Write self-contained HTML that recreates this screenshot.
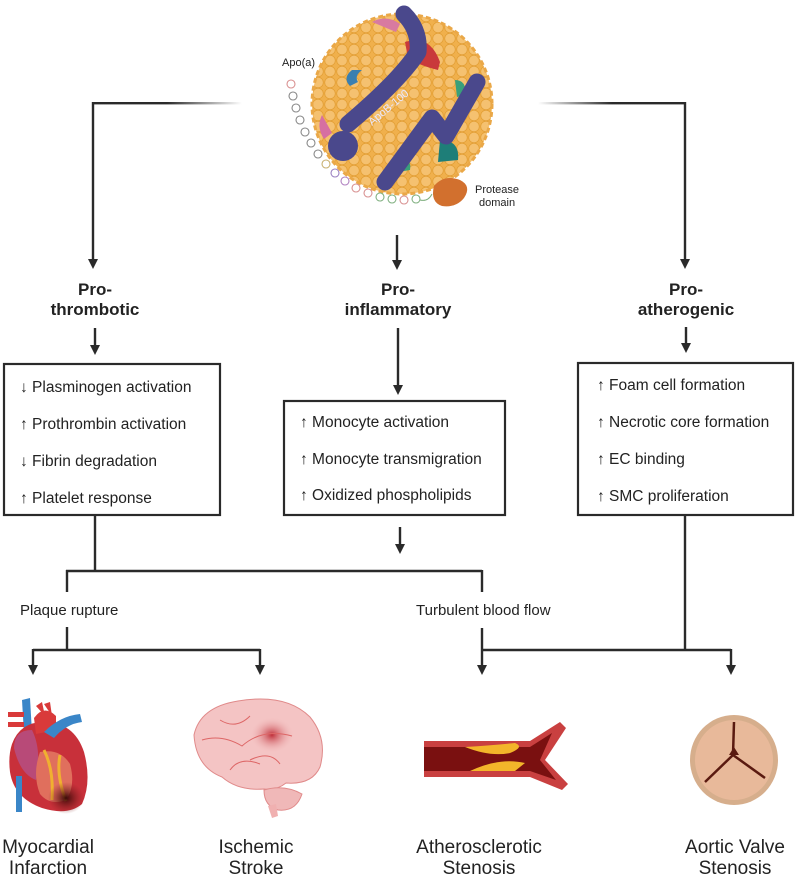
<!DOCTYPE html>
<html><head><meta charset="utf-8"><style>
html,body{margin:0;padding:0;background:#fff;}
svg{display:block;}
text{font-family:"Liberation Sans",sans-serif;fill:#222;}
.h{font-weight:bold;font-size:17px;text-anchor:middle;}
.t{font-size:15.5px;}
.l{font-size:15px;}
.b{font-size:19px;text-anchor:middle;}
.ln{stroke:#2a2a2a;stroke-width:2.4;fill:none;}
</style></head><body>
<svg width="796" height="876" viewBox="0 0 796 876" xmlns="http://www.w3.org/2000/svg">
<defs>
<linearGradient id="fl" x1="0" x2="1"><stop offset="0" stop-color="#2a2a2a" stop-opacity="0"/><stop offset="0.5" stop-color="#2a2a2a"/><stop offset="1" stop-color="#2a2a2a"/></linearGradient>
<linearGradient id="fr" x1="0" x2="1"><stop offset="0" stop-color="#2a2a2a"/><stop offset="0.5" stop-color="#2a2a2a"/><stop offset="1" stop-color="#2a2a2a" stop-opacity="0"/></linearGradient>
<pattern id="dots" width="12" height="11" patternUnits="userSpaceOnUse"><rect width="12" height="11" fill="#f0b04c"/><circle cx="6" cy="5.5" r="5.3" fill="#f5c170" stroke="#e39f35" stroke-width="0.8"/></pattern>
<radialGradient id="inf" cx="0.5" cy="0.5" r="0.5"><stop offset="0" stop-color="#c0303a"/><stop offset="1" stop-color="#f3c0c0" stop-opacity="0"/></radialGradient>
<radialGradient id="mi" cx="0.5" cy="0.5" r="0.5"><stop offset="0" stop-color="#3a0a08"/><stop offset="1" stop-color="#8a2020" stop-opacity="0"/></radialGradient>
</defs>

<!-- top connectors -->
<rect x="92" y="102" width="150" height="2.4" fill="url(#fr)"/>
<rect x="538" y="102" width="148" height="2.4" fill="url(#fl)"/>
<path class="ln" d="M93,102 V260"/><polygon points="88,259 98,259 93,269" fill="#2a2a2a"/>
<path class="ln" d="M685,102 V260"/><polygon points="680,259 690,259 685,269" fill="#2a2a2a"/>
<path class="ln" d="M397,235 V261"/><polygon points="392,260 402,260 397,270" fill="#2a2a2a"/>

<!-- particle -->
<circle cx="402" cy="104" r="90" fill="url(#dots)"/>
<circle cx="402" cy="104" r="90" fill="none" stroke="#eaa848" stroke-width="3" stroke-dasharray="5 3"/>
<path d="M372,22 q15,-8 28,2 l-4,8z" fill="#d87aa0"/>
<path d="M405,42 q25,-8 35,20 l-2,8 q-20,-5 -30,-12z" fill="#c9393b"/>
<path d="M352,70 q-10,8 -2,16 l8,-4 q-4,-6 4,-12z" fill="#3a7fb0"/>
<path d="M455,80 q12,0 10,15 l-8,2z" fill="#3aa07a"/>
<path d="M322,115 q-6,12 2,24 l8,-6z" fill="#d66fa2"/>
<path d="M440,140 q20,0 18,20 l-20,2z" fill="#1e7e78"/>
<path d="M400,158 q12,0 10,12 l-12,2z" fill="#3aa07a"/>
<g fill="none" stroke="#4a488c" stroke-width="17" stroke-linecap="round" stroke-linejoin="round">
<path d="M404,14 Q420,30 418,52 Q400,80 348,124"/>
<path d="M385,182 L432,118 L446,136 L477,82"/>
</g>
<circle cx="343" cy="146" r="15" fill="#4a488c"/>
<text x="372" y="126" transform="rotate(-40 372 126)" style="font-size:11px;fill:#e8e8ff">ApoB-100</text>
<text x="282" y="66" style="font-size:11px">Apo(a)</text>
<g fill="none" stroke-width="1.1">
<circle cx="291" cy="84" r="4" stroke="#d99090"/>
<circle cx="293" cy="96" r="4" stroke="#888"/>
<circle cx="296" cy="108" r="4" stroke="#888"/>
<circle cx="300" cy="120" r="4" stroke="#888"/>
<circle cx="305" cy="132" r="4" stroke="#888"/>
<circle cx="311" cy="143" r="4" stroke="#888"/>
<circle cx="318" cy="154" r="4" stroke="#888"/>
<circle cx="326" cy="164" r="4" stroke="#c8b070"/>
<circle cx="335" cy="173" r="4" stroke="#9a80c0"/>
<circle cx="345" cy="181" r="4" stroke="#b080c0"/>
<circle cx="356" cy="188" r="4" stroke="#d89090"/>
<circle cx="368" cy="193" r="4" stroke="#d89090"/>
<circle cx="380" cy="197" r="4" stroke="#80b080"/>
<circle cx="392" cy="199" r="4" stroke="#80b080"/>
<circle cx="404" cy="200" r="4" stroke="#d89090"/>
<circle cx="416" cy="199" r="4" stroke="#80b080"/>
</g>
<path d="M420,200 q8,2 12,-6" stroke="#80b080" fill="none"/>
<path d="M434,186 q10,-12 26,-6 q12,6 4,18 q-8,10 -22,8 q-12,-4 -8,-20z" fill="#d2702e"/>
<text x="475" y="193" style="font-size:11px">Protease</text>
<text x="479" y="206" style="font-size:11px">domain</text>

<!-- headings -->
<text class="h" x="95" y="295">Pro-</text><text class="h" x="95" y="315">thrombotic</text>
<text class="h" x="398" y="295">Pro-</text><text class="h" x="398" y="315">inflammatory</text>
<text class="h" x="686" y="295">Pro-</text><text class="h" x="686" y="315">atherogenic</text>
<path class="ln" d="M95,328 V346"/><polygon points="90,345 100,345 95,355" fill="#2a2a2a"/>
<path class="ln" d="M398,328 V386"/><polygon points="393,385 403,385 398,395" fill="#2a2a2a"/>
<path class="ln" d="M686,327 V344"/><polygon points="681,343 691,343 686,353" fill="#2a2a2a"/>

<!-- boxes -->
<rect x="4" y="364" width="216" height="151" fill="none" stroke="#2a2a2a" stroke-width="2.2"/>
<rect x="284" y="401" width="221" height="114" fill="none" stroke="#2a2a2a" stroke-width="2.2"/>
<rect x="578" y="363" width="215" height="152" fill="none" stroke="#2a2a2a" stroke-width="2.2"/>
<text x="20" y="392" class="t">↓ Plasminogen activation</text>
<text x="20" y="429" class="t">↑ Prothrombin activation</text>
<text x="20" y="466" class="t">↓ Fibrin degradation</text>
<text x="20" y="503" class="t">↑ Platelet response</text>
<text x="300" y="427" class="t">↑ Monocyte activation</text>
<text x="300" y="464" class="t">↑ Monocyte transmigration</text>
<text x="300" y="500" class="t">↑ Oxidized phospholipids</text>
<text x="597" y="390" class="t">↑ Foam cell formation</text>
<text x="597" y="427" class="t">↑ Necrotic core formation</text>
<text x="597" y="464" class="t">↑ EC binding</text>
<text x="597" y="501" class="t">↑ SMC proliferation</text>

<!-- lower connectors -->
<path class="ln" d="M95,515 V571 M66,571 H482 M67,570 V592 M482,570 V592"/>
<path class="ln" d="M400,527 V545"/><polygon points="395,544 405,544 400,554" fill="#2a2a2a"/>
<text class="l" x="20" y="615">Plaque rupture</text>
<text class="l" x="416" y="615">Turbulent blood flow</text>
<path class="ln" d="M67,627 V650 M33,650 H260 M33,649 V666 M260,649 V666"/>
<polygon points="28,665 38,665 33,675" fill="#2a2a2a"/><polygon points="255,665 265,665 260,675" fill="#2a2a2a"/>
<path class="ln" d="M685,515 V650 M482,628 V650 M482,650 H731 M482,649 V666 M731,649 V666"/>
<polygon points="477,665 487,665 482,675" fill="#2a2a2a"/><polygon points="726,665 736,665 731,675" fill="#2a2a2a"/>

<!-- heart -->
<g>
<path d="M36,706 l6,-4 l3,14z M44,704 l6,-2 l2,14z" fill="#d93a3a"/>
<path d="M22,700 l8,-2 l4,70 l-8,0z" fill="#3a86c8"/>
<path d="M12,744 q8,-22 32,-22 q30,0 40,30 q8,30 -2,52 q-14,12 -40,4 q-28,-10 -32,-36 q-2,-16 2,-28z" fill="#c8303a"/>
<path d="M14,748 q0,-18 18,-18 q10,20 4,50 q-16,-6 -22,-32z" fill="#b84a78"/>
<path d="M40,752 q20,-4 30,12 q6,22 -4,36 q-16,6 -26,-6 q-8,-20 0,-42z" fill="#e06f5d"/>
<path d="M44,750 q10,20 8,50 M60,755 q-4,20 6,46" stroke="#f0b030" stroke-width="3" fill="none"/>
<ellipse cx="66" cy="798" rx="18" ry="16" fill="url(#mi)"/>
<path d="M34,718 q10,-14 22,-2 l0,14 l-20,4z" fill="#d93a3a"/>
<path d="M44,732 q16,-16 36,-18 l2,8 q-16,2 -28,16z" fill="#3a86c8"/>
<path d="M8,712 l16,0 l0,5 l-16,0z M8,722 l16,0 l0,5 l-16,0z" fill="#d93a3a"/>
<path d="M16,776 l6,0 l0,36 l-6,0z" fill="#3a86c8"/>
</g>
<!-- brain -->
<g>
<path d="M194,735 q6,-28 44,-34 q48,-8 72,16 q18,22 10,50 q-8,18 -34,16 q-10,8 -22,6 q-26,2 -42,-12 q-26,-10 -28,-42z" fill="#f4c4c4" stroke="#e08a8a" stroke-width="1"/>
<ellipse cx="272" cy="735" rx="22" ry="18" fill="url(#inf)"/>
<path d="M264,790 q20,-6 38,4 q-6,18 -24,16 q-14,-4 -14,-20z" fill="#f0b8b8" stroke="#e08a8a"/>
<path d="M268,806 l4,12 l6,-2 l-2,-12z" fill="#f0b0b0"/>
<path d="M202,740 q20,-6 40,6 q20,-18 50,-10 M220,720 q16,10 30,-4 M250,760 q20,-10 30,4 M230,770 q10,-14 30,-6" stroke="#d66" stroke-width="1" fill="none"/>
</g>
<!-- artery -->
<g>
<path d="M424,741 L530,741 L560,722 L566,728 L545,760 L568,784 L562,790 L530,777 L424,777z" fill="#c94040"/>
<path d="M424,747 L530,747 L552,733 L540,760 L556,780 L530,771 L424,771z" fill="#7a1010"/>
<path d="M465,747 q30,-2 50,-4 q10,4 -5,10 q-20,4 -45,-6z M470,771 q30,-14 55,-8 l-10,8z" fill="#f3b52a"/>
</g>
<!-- valve -->
<g>
<ellipse cx="734" cy="760" rx="44" ry="45" fill="#d6ae8c"/>
<ellipse cx="734" cy="760" rx="39" ry="40" fill="#e8b99a"/>
<path d="M734,722 L733,755 L705,782 M733,755 L765,778" stroke="#5a1a10" stroke-width="2.5" fill="none"/>
<path d="M729,755 l5,-8 l5,8 z" fill="#5a1a10"/>
</g>

<text class="b" x="48" y="853">Myocardial</text><text class="b" x="48" y="874">Infarction</text>
<text class="b" x="256" y="853">Ischemic</text><text class="b" x="256" y="874">Stroke</text>
<text class="b" x="479" y="853">Atherosclerotic</text><text class="b" x="479" y="874">Stenosis</text>
<text class="b" x="735" y="853">Aortic Valve</text><text class="b" x="735" y="874">Stenosis</text>
</svg>
</body></html>
